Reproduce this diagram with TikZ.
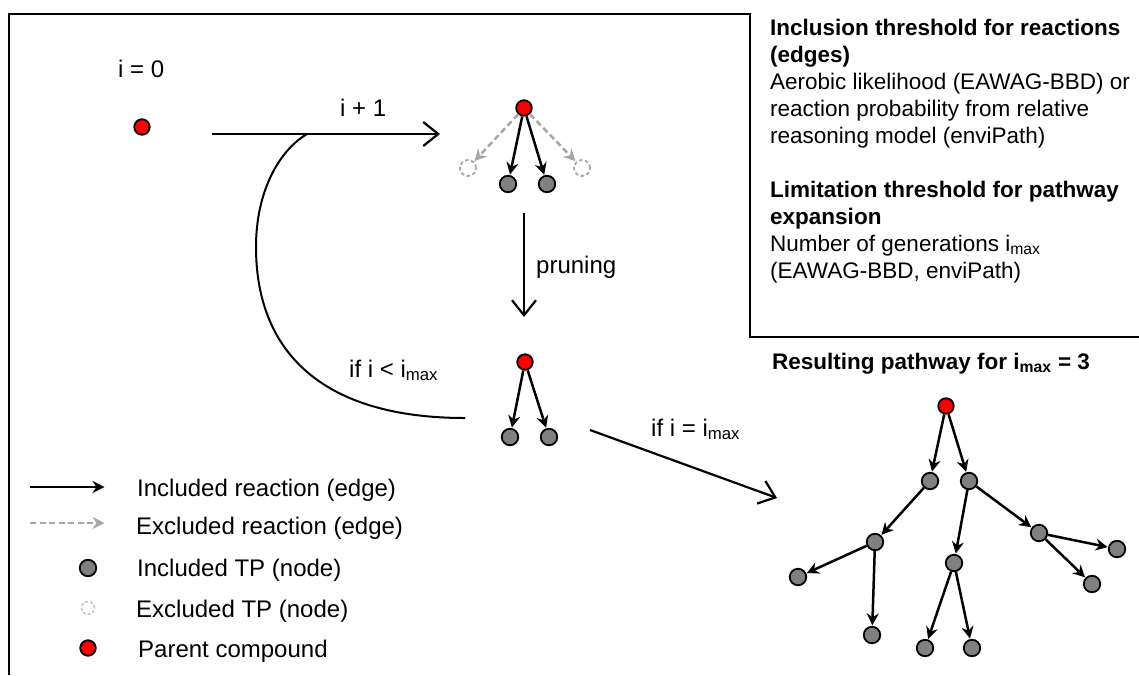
\documentclass[tikz,border=0pt]{standalone}
\usepackage{fontspec}
\setmainfont{Liberation Sans}
\usetikzlibrary{arrows.meta}
\newcommand\imx{i\textsubscript{max}}
\begin{document}
\begin{tikzpicture}[x=1pt,y=-1pt,
  parent/.style={circle,draw=black,fill=red,line width=1.8,minimum size=15.5,inner sep=0},
  tp/.style={circle,draw=black,fill=black!50,line width=1.8,minimum size=16.5,inner sep=0},
  extp/.style={circle,draw=black!35,fill=white,line width=1.8,dash pattern=on 3.5 off 2.5,minimum size=16,inner sep=0},
  rxn/.style={-{Stealth[length=12,width=12,inset=4]},line width=2.5,shorten >=0.5},
  exrxn/.style={rxn,draw=black!35,dash pattern=on 6 off 3.5},
  proc/.style={-{Straight Barb[length=15,width=24,line width=2.2]},line width=2.2},
  lab/.style={font=\fontsize{24}{28}\selectfont,inner sep=0,anchor=base west},
  bx/.style={font=\fontsize{22.5}{27}\selectfont,inner sep=0,anchor=base west},
  bxb/.style={font=\fontsize{22.5}{27}\selectfont\bfseries,inner sep=0,anchor=base west},
  frame/.style={line width=2.4}]
\useasboundingbox (0,0) rectangle (1139,675);

% frame
\coordinate (f1) at (9,675);
\coordinate (f2) at (9,14);
\coordinate (f3) at (750,14);
\coordinate (f4) at (750,337);
\coordinate (f5) at (1139,337);
\draw[frame] (f1) -- (f2) -- (f3) -- (f4) -- (f5);

% info box text
\node[bxb] (t1) at (770,35) {Inclusion threshold for reactions};
\node[bxb] (t2) at (770,62) {(edges)};
\node[bx] (t3) at (770,89) {Aerobic likelihood (EAWAG-BBD) or};
\node[bx] (t4) at (770,116) {reaction probability from relative};
\node[bx] (t5) at (770,143) {reasoning model (enviPath)};
\node[bxb] (t6) at (770,197) {Limitation threshold for pathway};
\node[bxb] (t7) at (770,224) {expansion};
\node[bx] (t8) at (770,251) {Number of generations \imx};
\node[bx] (t9) at (770,278) {(EAWAG-BBD, enviPath)};

% start
\node[lab] (l0) at (118,77) {i = 0};
\node[parent] (p0) at (142,127) {};

% i+1 arrow
\coordinate (a1s) at (212,134);
\coordinate (a1e) at (440,134);
\coordinate (join) at (307,134);
\draw[proc] (a1s) -- (a1e);
\node[lab] (l1) at (340,116) {i + 1};

% tree 1
\node[parent] (r1) at (524,108) {};
\node[tp] (g1) at (508,184) {};
\node[tp] (g2) at (547,184) {};
\node[extp] (x1) at (468,168) {};
\node[extp] (x2) at (582,168) {};
\draw[exrxn] (r1) -- (x1);
\draw[exrxn] (r1) -- (x2);
\draw[rxn] (r1) -- (g1);
\draw[rxn] (r1) -- (g2);

% pruning
\coordinate (prs) at (524,213);
\coordinate (pre) at (524,317);
\draw[proc] (prs) -- (pre);
\node[lab] (l2) at (536,273) {pruning};

% tree 2
\node[parent] (r2) at (525,362) {};
\node[tp] (h1) at (510,437) {};
\node[tp] (h2) at (549,437) {};
\draw[rxn] (r2) -- (h1);
\draw[rxn] (r2) -- (h2);

% loop
\coordinate (lend) at (465,418);
\draw[line width=2] (lend) .. controls (320,418) and (256,350) .. (256,247)
   .. controls (256,190) and (280,150) .. (join);
\node[lab] (l3) at (349,377) {if i < \imx};

% to result
\coordinate (rs) at (590,430);
\coordinate (re) at (777,498);
\draw[proc] (rs) -- (re);
\node[lab] (l4) at (651,436) {if i = \imx};

% result title
\node[bxb] (l5) at (772,369) {Resulting pathway for \imx{} = 3};

% result tree
\node[parent] (R) at (946,406) {};
\node[tp] (A) at (930,481) {};
\node[tp] (B) at (969,481) {};
\node[tp] (C) at (875,542) {};
\node[tp] (D) at (798,577) {};
\node[tp] (E) at (872,635) {};
\node[tp] (F) at (954,563) {};
\node[tp] (G) at (925,648) {};
\node[tp] (H) at (972,648) {};
\node[tp] (I) at (1039,533) {};
\node[tp] (J) at (1117,549) {};
\node[tp] (K) at (1092,584) {};
\foreach \a/\b in {R/A,R/B,A/C,C/D,C/E,B/F,F/G,F/H,B/I,I/J,I/K}
  \draw[rxn] (\a) -- (\b);

% legend
\coordinate (la1) at (30,487);
\coordinate (la2) at (105,487);
\coordinate (lb1) at (30,523);
\coordinate (lb2) at (105,523);
\draw[rxn] (la1) -- (la2);
\draw[exrxn] (lb1) -- (lb2);
\node[tp] (lg1) at (88,568) {};
\node[extp,minimum size=13,line width=1.5,draw=black!25,dash pattern=on 3 off 2] (lg2) at (88,608) {};
\node[parent] (lg3) at (88,648) {};
\node[lab] (e1) at (137,496) {Included reaction (edge)};
\node[lab] (e2) at (136,534) {Excluded reaction (edge)};
\node[lab] (e3) at (137,576) {Included TP (node)};
\node[lab] (e4) at (136,617) {Excluded TP (node)};
\node[lab] (e5) at (138,657) {Parent compound};
\end{tikzpicture}
\end{document}
